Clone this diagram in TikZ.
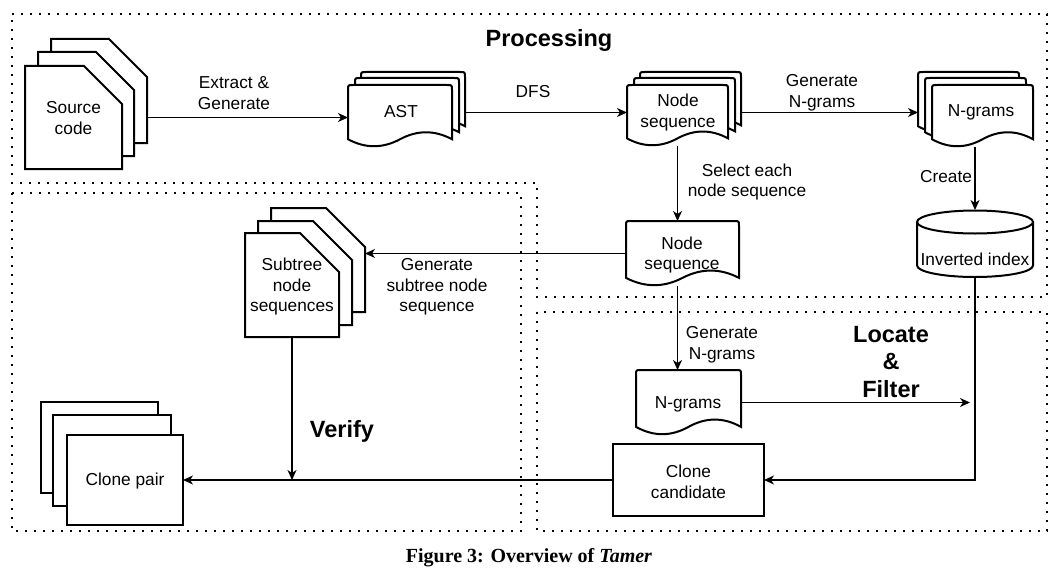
\documentclass[tikz,border=0pt]{standalone}
\usepackage{fontspec}
\setmainfont{Liberation Sans}
\newfontfamily\capfont{Liberation Serif}
\usetikzlibrary{arrows.meta,calc}

\tikzset{
  region/.style={line width=2pt, dash pattern=on 2pt off 7pt, line cap=butt},
  shapeline/.style={line width=2pt, fill=white, line join=miter},
  conn/.style={line width=1.3pt, -{Stealth[length=10pt,width=9pt,inset=3pt]}},
  anchorbox/.style={draw=none, inner sep=0pt, outer sep=0pt},
  lbl/.style={align=center, inner sep=0pt, font=\fontsize{17.3}{20.5}\selectfont},
  title/.style={align=center, inner sep=0pt, font=\fontsize{23.5}{27.5}\selectfont\bfseries},
}

% named invisible box: name, x1, y1, x2, y2 (pixel coordinates, y downwards)
\newcommand\boxnode[5]{%
  \node[anchorbox, minimum width={(#4-#2)*1pt}, minimum height={(#5-#3)*1pt}] (#1) at ({(#2+#4)/2},{(#3+#5)/2}) {};%
}
% document shape with wavy bottom and rounded top corners
\newcommand\docshape[4]{%
  \pgfmathsetmacro\dW{#3-#1}%
  \pgfmathsetmacro\dD{0.25*(#4-#2)}%
  \pgfmathsetmacro\yE{#4-\dD/2}%
  \pgfmathsetmacro\yU{#4-1.4*\dD}%
  \pgfmathsetmacro\yL{#4+0.4*\dD}%
  \pgfmathsetmacro\xM{#1+\dW/2}%
  \pgfmathsetmacro\xR{#1+0.75*\dW}%
  \pgfmathsetmacro\xL{#1+0.25*\dW}%
  \pgfmathsetmacro\aX{#3+2/3*(\xR-#3)}%
  \pgfmathsetmacro\bX{\xM+2/3*(\xR-\xM)}%
  \pgfmathsetmacro\aY{\yE+2/3*(\yU-\yE)}%
  \pgfmathsetmacro\cX{\xM+2/3*(\xL-\xM)}%
  \pgfmathsetmacro\dX{#1+2/3*(\xL-#1)}%
  \pgfmathsetmacro\cY{\yE+2/3*(\yL-\yE)}%
  \draw[shapeline] (#1,\yE) -- (#1,#2+5) .. controls (#1,#2) .. (#1+5,#2) -- (#3-5,#2) .. controls (#3,#2) .. (#3,#2+5) -- (#3,\yE) .. controls (\aX,\aY) and (\bX,\aY) .. (\xM,\yE) .. controls (\cX,\cY) and (\dX,\cY) .. (#1,\yE) -- cycle;%
}
% card with cut top-right corner: x1 y1 x2 y2 cut
\newcommand\cardshape[5]{%
  \draw[shapeline] (#1,#2) -- (#3-#5,#2) -- (#3,#2+#5) -- (#3,#4) -- (#1,#4) -- cycle;%
}

\begin{document}
\begin{tikzpicture}[x=1pt,y=-1pt]
\useasboundingbox (0,0) rectangle (1059,575);

% ---------- regions ----------
\draw[region] (12,14) -- (1047,14) -- (1047,297) -- (537,297) -- (537,183) -- (12,183) -- cycle;
\draw[region] (12,193) rectangle (521,531);
\draw[region] (537,312) rectangle (1047,531);

% ---------- named boxes ----------
\boxnode{srcA}{25}{66}{122}{169}
\boxnode{srcC}{51}{39}{147}{143}
\boxnode{astF}{348}{85}{452}{147}
\boxnode{astB}{361}{72}{465}{134}
\boxnode{nsF}{627}{85}{728}{146}
\boxnode{nsB}{640}{72}{741}{133}
\boxnode{ngF}{932}{85}{1033}{147}
\boxnode{ngB}{918}{72}{1019}{134}
\boxnode{inv}{917}{210}{1033}{277}
\boxnode{nsTwo}{626}{221}{739}{286}
\boxnode{subF}{245}{233}{339}{337}
\boxnode{subB}{271}{208}{365}{312}
\boxnode{ngTwo}{636}{370}{741}{435}
\boxnode{cand}{613}{444}{764}{516}
\boxnode{pairF}{67}{435}{183}{525}
\coordinate (rowA) at (0,112.5);
\coordinate (colA) at (677.5,0);

% ---------- connectors (drawn below the shapes) ----------
\draw[conn] (srcC.east |- srcA.center) -- (astF.west |- srcA.center);
\draw[conn] (astB.east |- rowA) -- (nsF.west |- rowA);
\draw[conn] (nsB.east |- rowA) -- (ngB.west |- rowA);
\draw[conn] (inv.north |- ngF.south) -- (inv.north);
\draw[conn] (colA |- nsF.south) -- (colA |- nsTwo.north);
\draw[conn] (nsTwo.west) -- (subB.east |- nsTwo.west);
\draw[conn] (colA |- nsTwo.south) -- (colA |- ngTwo.north);
\draw[conn] (ngTwo.east) -- ([xshift=-5pt]inv.south |- ngTwo.east);
\draw[conn] (inv.south) -- (inv.south |- cand.east) -- (cand.east);
\draw[conn] (cand.west) -- (pairF.east |- cand.west);
\draw[conn] (subF.south) -- (subF.south |- cand.west);

% ---------- shapes ----------
% Source code stack
\cardshape{51}{39}{147}{143}{38}
\cardshape{38}{52}{134}{156}{38}
\cardshape{25}{66}{122}{169}{38}
% AST stack
\docshape{361}{72}{465}{134}
\docshape{355}{78}{459}{140}
\docshape{348}{85}{452}{147}
% Node sequence stack
\docshape{640}{72}{741}{133}
\docshape{634}{78}{735}{139}
\docshape{627}{85}{728}{146}
% N-grams stack
\docshape{918}{72}{1019}{134}
\docshape{925}{78}{1026}{140}
\docshape{932}{85}{1033}{147}
% Inverted index cylinder
\draw[shapeline] (917,222) -- (917,265.5) arc[start angle=180, end angle=360, x radius=58pt, y radius=11.5pt] -- (1033,222);
\draw[shapeline] (975,222) ellipse [x radius=58pt, y radius=11.5pt];
% lower Node sequence, N-grams
\docshape{626}{221}{739}{286}
\docshape{636}{370}{741}{435}
% Subtree stack
\cardshape{271}{208}{365}{312}{39}
\cardshape{258}{221}{352}{325}{39}
\cardshape{245}{233}{339}{337}{39}
% Clone candidate
\draw[shapeline] (cand.north west) rectangle (cand.south east);
% Clone pair stack
\draw[shapeline] (41,402) rectangle (158,493);
\draw[shapeline] (53,415) rectangle (171,506);
\draw[shapeline] (pairF.north west) rectangle (pairF.south east);

% ---------- texts ----------
\node[lbl] (tSrc) at (73.5,118) {Source\\code};
\node[lbl] (tAst) at (401,112) {AST};
\node[lbl] (tNs) at (678,112.5) {Node\\sequence};
\node[lbl] (tNg) at (981,112.5) {N-grams};
\node[lbl] (tInv) at (975,259) {Inverted index};
\node[lbl] (tNsTwo) at (682,255) {Node\\sequence};
\node[lbl] (tNgTwo) at (688,404) {N-grams};
\node[lbl] (tSub) at (292,287) {Subtree\\node\\sequences};
\node[lbl] (tCand) at (688.5,482) {Clone\\candidate};
\node[lbl] (tPair) at (125,481) {Clone pair};

\node[lbl] (lExtract) at (234,93) {Extract \&\\Generate};
\node[lbl] (lDfs) at (533,92) {DFS};
\node[lbl] (lGenA) at (822,93) {Generate\\N-grams};
\node[lbl] (lCreate) at (946,177) {Create};
\node[lbl] (lSelect) at (747,182) {Select each\\node sequence};
\node[lbl] (lSubtree) at (437,287) {Generate\\subtree node\\sequence};
\node[lbl] (lGenB) at (722,345) {Generate\\N-grams};

\node[title] (hProc) at (549,40) {Processing};
\node[title] (hVerify) at (342,431) {Verify};
\node[title] (hLocate) at (891,362) {Locate\\\&\\Filter};

\node[inner sep=0pt, font=\capfont\fontsize{20}{24}\selectfont\bfseries] (caption) at (529,558) {Figure 3: Overview of \textit{Tamer}};
\end{tikzpicture}
\end{document}
